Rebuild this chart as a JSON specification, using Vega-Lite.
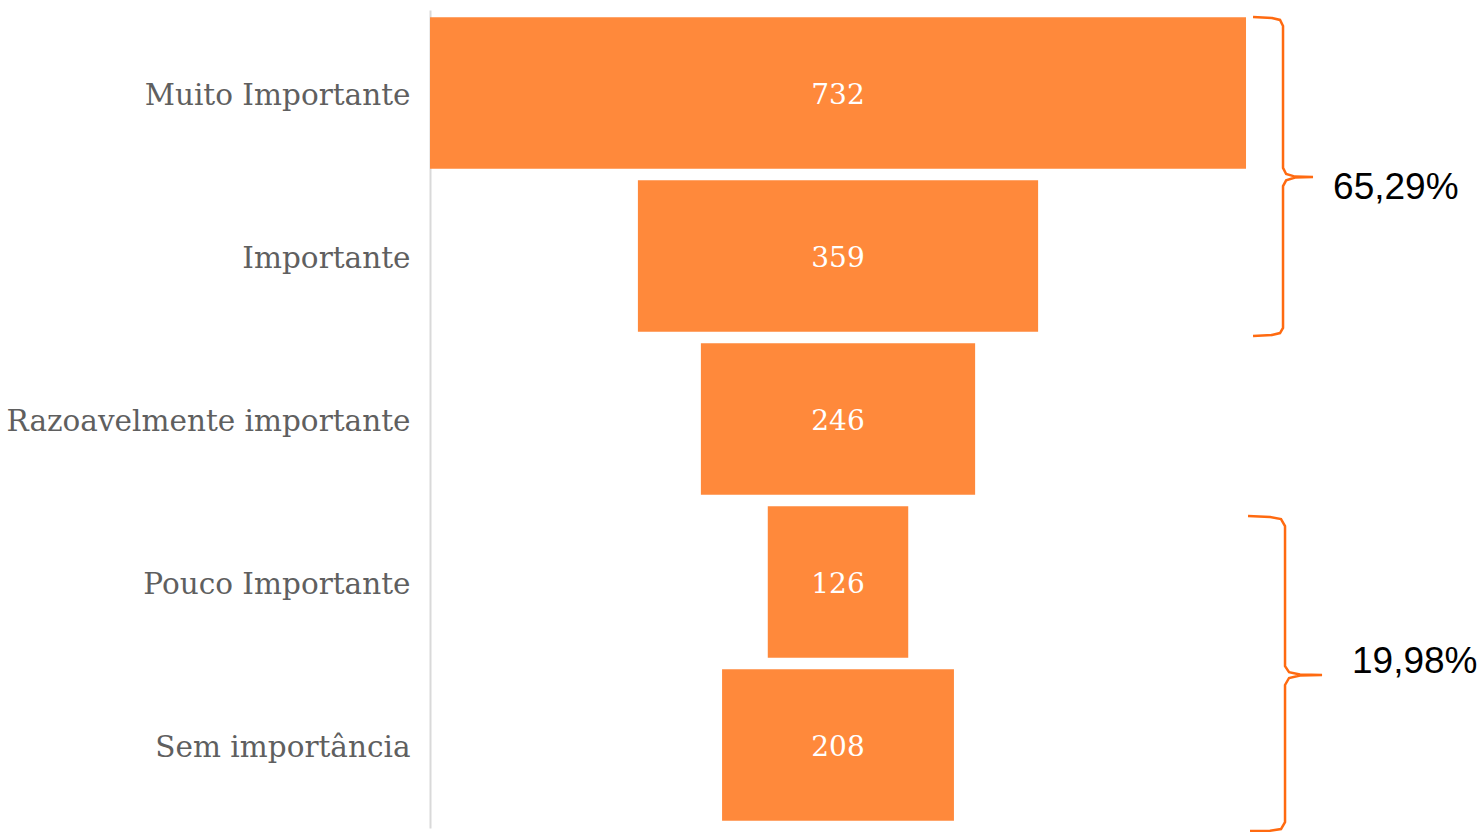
{
  "$schema": "https://vega.github.io/schema/vega-lite/v6.json",
  "width": 1049,
  "height": 818,
  "autosize": "none",
  "padding": {"left": 430, "top": 10, "right": 0, "bottom": 4},
  "background": "white",
  "config": {"view": {"stroke": null}},
  "datasets": {
    "funnel": [
      {"cat": "Muito Importante", "n": 732},
      {"cat": "Importante", "n": 359},
      {"cat": "Razoavelmente importante", "n": 246},
      {"cat": "Pouco Importante", "n": 126},
      {"cat": "Sem importância", "n": 208}
    ],
    "braces": [
      {"b": "A", "i": 1, "bx": 738.3, "by": 0.043},
      {"b": "A", "i": 2, "bx": 755.3, "by": 0.049},
      {"b": "A", "i": 3, "bx": 762.5, "by": 0.061},
      {"b": "A", "i": 4, "bx": 765.2, "by": 0.098},
      {"b": "A", "i": 5, "bx": 765.2, "by": 0.969},
      {"b": "A", "i": 6, "bx": 768.0, "by": 1.006},
      {"b": "A", "i": 7, "bx": 776.0, "by": 1.022},
      {"b": "A", "i": 8, "bx": 792.1, "by": 1.025},
      {"b": "A", "i": 9, "bx": 776.0, "by": 1.028},
      {"b": "A", "i": 10, "bx": 768.0, "by": 1.045},
      {"b": "A", "i": 11, "bx": 765.2, "by": 1.080},
      {"b": "A", "i": 12, "bx": 765.2, "by": 1.951},
      {"b": "A", "i": 13, "bx": 762.5, "by": 1.982},
      {"b": "A", "i": 14, "bx": 755.3, "by": 1.994},
      {"b": "A", "i": 15, "bx": 738.3, "by": 2.0},
      {"b": "B", "i": 1, "bx": 733.8, "by": 3.104},
      {"b": "B", "i": 2, "bx": 753.5, "by": 3.110},
      {"b": "B", "i": 3, "bx": 763.4, "by": 3.123},
      {"b": "B", "i": 4, "bx": 767.0, "by": 3.166},
      {"b": "B", "i": 5, "bx": 767.0, "by": 4.025},
      {"b": "B", "i": 6, "bx": 770.6, "by": 4.062},
      {"b": "B", "i": 7, "bx": 780.4, "by": 4.077},
      {"b": "B", "i": 8, "bx": 800.2, "by": 4.080},
      {"b": "B", "i": 9, "bx": 780.4, "by": 4.083},
      {"b": "B", "i": 10, "bx": 770.6, "by": 4.098},
      {"b": "B", "i": 11, "bx": 767.0, "by": 4.141},
      {"b": "B", "i": 12, "bx": 767.0, "by": 4.982},
      {"b": "B", "i": 13, "bx": 763.4, "by": 5.025},
      {"b": "B", "i": 14, "bx": 753.5, "by": 5.035},
      {"b": "B", "i": 15, "bx": 735.6, "by": 5.037}
    ],
    "pct": [
      {"label": "65,29%", "px": 810.1, "py": 1.092},
      {"label": "19,98%", "px": 827.1, "py": 4.0}
    ]
  },
  "layer": [
    {
      "data": {"name": "funnel"},
      "layer": [
        {
          "mark": {"type": "bar", "color": "#FF893B"},
          "encoding": {
            "y": {
              "field": "cat", "type": "nominal", "sort": null,
              "scale": {"paddingInner": 0.07, "paddingOuter": 0.044},
              "axis": {
                "title": null, "ticks": false, "labelPadding": 20, "labelOffset": 3,
                "labelFont": "DejaVu Serif", "labelFontSize": 29.5, "labelColor": "#5f5f5f",
                "domainColor": "#d9d9d9", "domainWidth": 2, "labelLimit": 500
              }
            },
            "x": {
              "field": "n", "type": "quantitative", "stack": "center",
              "scale": {"domain": [0, 941], "nice": false, "zero": false},
              "axis": null
            }
          }
        },
        {
          "mark": {"type": "text", "color": "white", "font": "DejaVu Serif", "fontSize": 28, "align": "center", "baseline": "middle", "dy": 3},
          "encoding": {
            "y": {"field": "cat", "type": "nominal", "sort": null},
            "x": {"datum": 366, "type": "quantitative"},
            "text": {"field": "n", "type": "quantitative"}
          }
        }
      ]
    },
    {
      "layer": [
        {
          "data": {"name": "braces"},
          "mark": {"type": "line", "color": "#FF6A10", "strokeWidth": 2.5, "interpolate": "linear"},
          "encoding": {
            "x": {"field": "bx", "type": "quantitative"},
            "y": {"field": "by", "type": "quantitative", "scale": {"domain": [0, 5.0184], "reverse": true, "nice": false, "zero": false}, "axis": null},
            "detail": {"field": "b", "type": "nominal"},
            "order": {"field": "i", "type": "quantitative"}
          }
        },
        {
          "data": {"name": "pct"},
          "mark": {"type": "text", "font": "Liberation Sans", "fontSize": 37, "color": "#000000", "align": "left", "baseline": "middle"},
          "encoding": {
            "x": {"field": "px", "type": "quantitative"},
            "y": {"field": "py", "type": "quantitative"},
            "text": {"field": "label", "type": "nominal"}
          }
        }
      ]
    }
  ],
  "resolve": {"scale": {"y": "independent"}}
}
